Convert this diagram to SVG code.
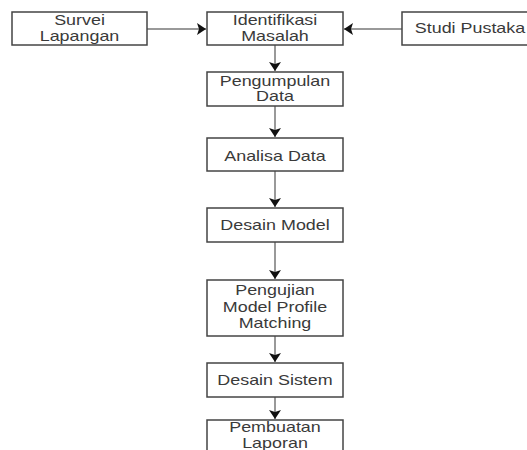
<svg xmlns="http://www.w3.org/2000/svg" width="527" height="450" viewBox="0 0 527 450">
<defs>
<style>
.box{fill:#fff;stroke:#444;stroke-width:1.5}
.lbl{font-family:"Liberation Sans",Arial,sans-serif;font-size:14px;fill:#3a3a3a;text-anchor:middle}
.con{stroke:#999;stroke-width:2;fill:none}
</style>
<marker id="ah" markerWidth="9" markerHeight="12" refX="9" refY="6" viewBox="0 0 9 12" orient="auto" markerUnits="userSpaceOnUse">
<path d="M0,0 L9,6 L0,12 L2,6 Z" fill="#111"/>
</marker>
</defs>
<rect width="527" height="450" fill="#fff"/>
<g id="connectors">
<line class="con" x1="147" y1="29" x2="206" y2="29" marker-end="url(#ah)"/>
<line class="con" x1="402" y1="29" x2="344" y2="29" marker-end="url(#ah)"/>
<line class="con" x1="275" y1="45" x2="275" y2="71" marker-end="url(#ah)"/>
<line class="con" x1="275" y1="106" x2="275" y2="137" marker-end="url(#ah)"/>
<line class="con" x1="275" y1="171" x2="275" y2="207" marker-end="url(#ah)"/>
<line class="con" x1="275" y1="242" x2="275" y2="279" marker-end="url(#ah)"/>
<line class="con" x1="275" y1="336" x2="275" y2="362" marker-end="url(#ah)"/>
<line class="con" x1="275" y1="397" x2="275" y2="419" marker-end="url(#ah)"/>
</g>
<g id="survei">
<rect class="box" x="12" y="12" width="135" height="33"/>
<text class="lbl" transform="translate(79.5,25) scale(1.28,1)">Survei</text>
<text class="lbl" transform="translate(79.5,41) scale(1.28,1)">Lapangan</text>
</g>
<g id="identifikasi">
<rect class="box" x="207" y="12" width="136" height="33"/>
<text class="lbl" transform="translate(275,25) scale(1.28,1)">Identifikasi</text>
<text class="lbl" transform="translate(275,41) scale(1.28,1)">Masalah</text>
</g>
<g id="studi">
<rect class="box" x="402" y="12" width="136" height="33"/>
<text class="lbl" transform="translate(470,33) scale(1.28,1)">Studi Pustaka</text>
</g>
<g id="pengumpulan">
<rect class="box" x="207" y="72" width="136" height="34"/>
<text class="lbl" transform="translate(275,86) scale(1.28,1)">Pengumpulan</text>
<text class="lbl" transform="translate(275,101) scale(1.28,1)">Data</text>
</g>
<g id="analisa">
<rect class="box" x="207" y="138" width="136" height="33"/>
<text class="lbl" transform="translate(275,161) scale(1.28,1)">Analisa Data</text>
</g>
<g id="desainmodel">
<rect class="box" x="207" y="208" width="136" height="34"/>
<text class="lbl" transform="translate(275,230) scale(1.28,1)">Desain Model</text>
</g>
<g id="pengujian">
<rect class="box" x="207" y="280" width="136" height="56"/>
<text class="lbl" transform="translate(275,295) scale(1.28,1)">Pengujian</text>
<text class="lbl" transform="translate(275,312) scale(1.28,1)">Model Profile</text>
<text class="lbl" transform="translate(275,328) scale(1.28,1)">Matching</text>
</g>
<g id="desainsistem">
<rect class="box" x="207" y="363" width="136" height="34"/>
<text class="lbl" transform="translate(275,385) scale(1.28,1)">Desain Sistem</text>
</g>
<g id="pembuatan">
<rect class="box" x="207" y="420" width="136" height="36"/>
<text class="lbl" transform="translate(275,432) scale(1.28,1)">Pembuatan</text>
<text class="lbl" transform="translate(275,448) scale(1.28,1)">Laporan</text>
</g>
</svg>
